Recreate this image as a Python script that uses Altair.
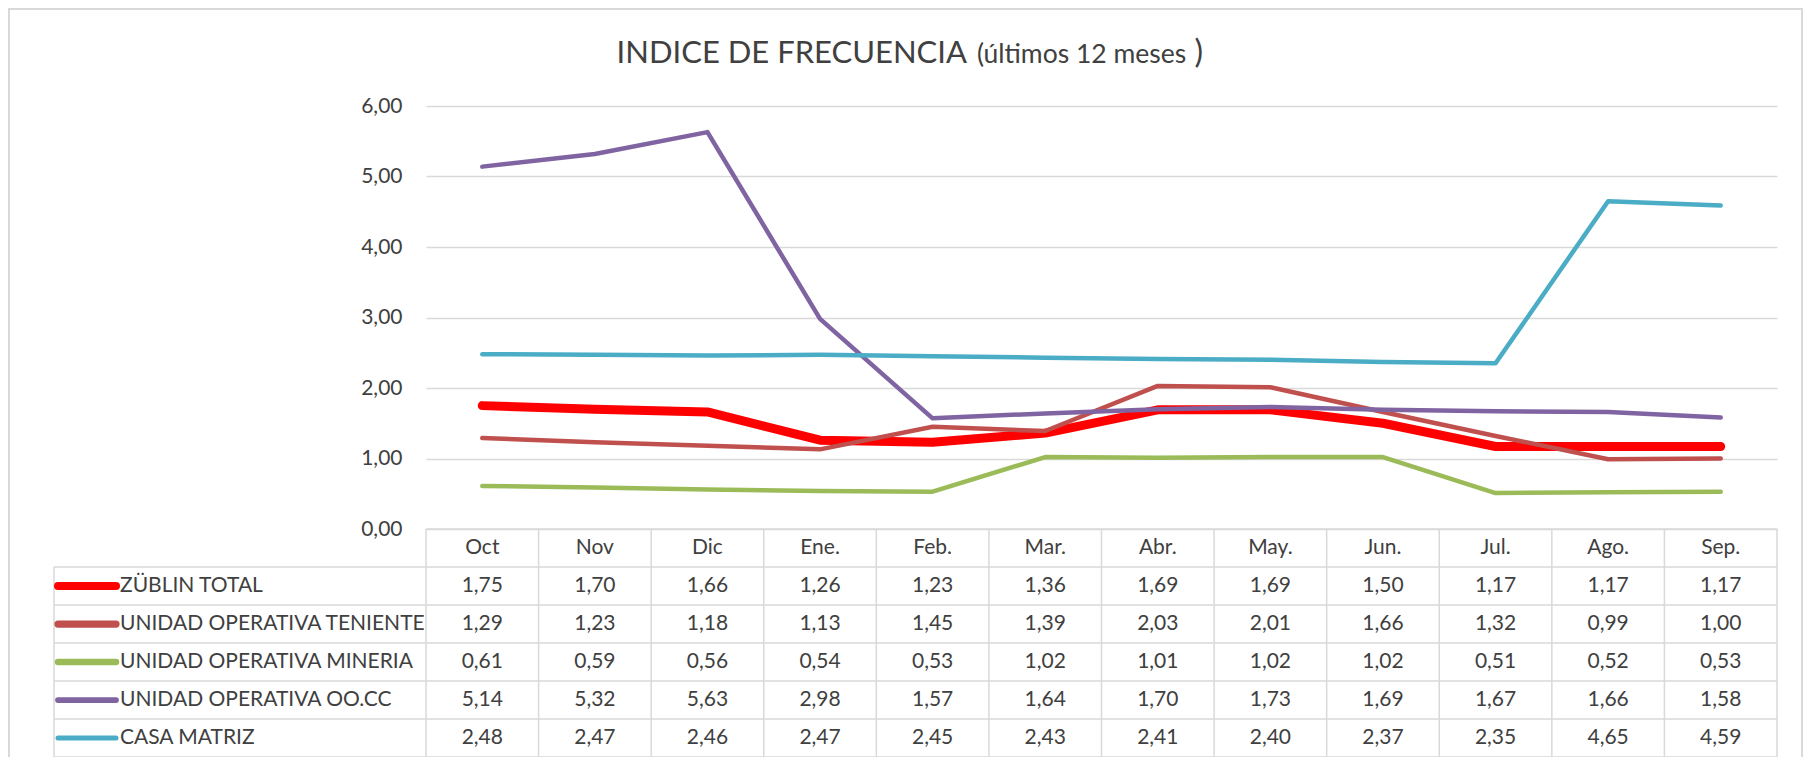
import altair as alt
import pandas as pd

# ---------------- data ----------------
months = ["Oct", "Nov", "Dic", "Ene.", "Feb.", "Mar.", "Abr.", "May.", "Jun.", "Jul.", "Ago.", "Sep."]
series_names = [
    "ZÜBLIN TOTAL",
    "UNIDAD OPERATIVA TENIENTE",
    "UNIDAD OPERATIVA MINERIA",
    "UNIDAD OPERATIVA OO.CC",
    "CASA MATRIZ",
]
zublin_total = [1.75, 1.70, 1.66, 1.26, 1.23, 1.36, 1.69, 1.69, 1.50, 1.17, 1.17, 1.17]
teniente = [1.29, 1.23, 1.18, 1.13, 1.45, 1.39, 2.03, 2.01, 1.66, 1.32, 0.99, 1.00]
mineria = [0.61, 0.59, 0.56, 0.54, 0.53, 1.02, 1.01, 1.02, 1.02, 0.51, 0.52, 0.53]
oocc = [5.14, 5.32, 5.63, 2.98, 1.57, 1.64, 1.70, 1.73, 1.69, 1.67, 1.66, 1.58]
casa_matriz = [2.48, 2.47, 2.46, 2.47, 2.45, 2.43, 2.41, 2.40, 2.37, 2.35, 4.65, 4.59]
y_ticks = [0, 1, 2, 3, 4, 5, 6]
title_main = "INDICE DE FRECUENCIA"
title_sub = "(últimos 12 meses"
title_close = ")"

series_values = [zublin_total, teniente, mineria, oocc, casa_matriz]

# ---------------- styles / layout ----------------
colors = ["#FF0000", "#C0504D", "#9BBB59", "#8064A2", "#4BACC6"]
line_widths = [9, 4.5, 4.5, 4.5, 4.5]
swatch_widths = [8, 5, 5, 5, 5]
FONT = "Lato"
TXT = "#404040"
GRID = "#D9D9D9"

W = 1351          # plot width (12 columns)
PLOT_H = 423      # line-plot height
ROW_H = 38        # table row height
N_ROWS = len(series_names) + 1
H = PLOT_H + ROW_H * N_ROWS
PAD_L, PAD_T = 418, 98
PAD_R = 1796 - PAD_L - W
PAD_B = 0
LEG_LEFT = -372

# ---------------- tables ----------------
rows = []
for si, (name, vals) in enumerate(zip(series_names, series_values)):
    for mi, (m, v) in enumerate(zip(months, vals)):
        rows.append({"series": name, "month": m, "col": mi + 0.5, "rowc": si + 1.5, "value": v})
df = pd.DataFrame(rows)

df_head = pd.DataFrame({"month": months, "col": [i + 0.5 for i in range(len(months))], "rowc": 0.5})
df_series = pd.DataFrame({"series": series_names, "rowc": [i + 1.5 for i in range(len(series_names))]})
df_edges = pd.DataFrame({"edge": list(range(len(months) + 1))})
df_hb = pd.DataFrame({"hb": list(range(1, N_ROWS + 1))})
df_one = pd.DataFrame({"a": [0]})

xs = alt.Scale(domain=[0, len(months)], nice=False, zero=False)
ys_line = alt.Scale(domain=[min(y_ticks), max(y_ticks)], range=[PLOT_H, 0], nice=False)
ys_tab = alt.Scale(domain=[0, N_ROWS], range=[PLOT_H, H], nice=False, zero=False)

y_axis = alt.Axis(
    values=y_ticks,
    labelExpr="replace(format(datum.value, '.2f'), '.', ',')",
    domain=False, ticks=False, grid=True, gridColor=GRID, gridWidth=1.3,
    labelFont=FONT, labelFontSize=21, labelColor=TXT, labelPadding=24, title=None,
)

# ---------------- lines ----------------
line_layers = []
for i, name in enumerate(series_names):
    line_layers.append(
        alt.Chart(df)
        .transform_filter(alt.datum.series == name)
        .mark_line(color=colors[i], strokeWidth=line_widths[i], strokeCap="round", strokeJoin="round")
        .encode(
            x=alt.X("col:Q", scale=xs, axis=None),
            y=alt.Y("value:Q", scale=ys_line, axis=y_axis),
        )
    )
lines = alt.layer(*line_layers)

# ---------------- data table ----------------
rule_style = dict(color=GRID, strokeWidth=1.5)

h_rules = alt.Chart(df_hb).mark_rule(**rule_style).encode(
    y=alt.Y("hb:Q", scale=ys_tab, axis=None), x=alt.value(LEG_LEFT), x2=alt.value(W)
)
head_rule = alt.Chart(df_one).mark_rule(**rule_style).encode(
    y=alt.value(PLOT_H), x=alt.value(0), x2=alt.value(W)
)
v_rules = alt.Chart(df_edges).mark_rule(**rule_style).encode(
    x=alt.X("edge:Q", scale=xs, axis=None), y=alt.value(PLOT_H), y2=alt.value(H)
)
leg_left_rule = alt.Chart(df_one).mark_rule(**rule_style).encode(
    x=alt.value(LEG_LEFT), y=alt.value(PLOT_H + ROW_H), y2=alt.value(H)
)

text_style = dict(font=FONT, fontSize=21, color=TXT, baseline="middle")

head_text = alt.Chart(df_head).mark_text(align="center", **text_style).encode(
    x=alt.X("col:Q", scale=xs, axis=None),
    y=alt.Y("rowc:Q", scale=ys_tab, axis=None),
    text="month:N",
)
num_text = (
    alt.Chart(df)
    .transform_calculate(label="replace(format(datum.value, '.2f'), '.', ',')")
    .mark_text(align="center", **text_style)
    .encode(
        x=alt.X("col:Q", scale=xs, axis=None),
        y=alt.Y("rowc:Q", scale=ys_tab, axis=None),
        text="label:N",
    )
)
leg_text = alt.Chart(df_series).mark_text(align="left", **text_style).encode(
    x=alt.value(LEG_LEFT + 66),
    y=alt.Y("rowc:Q", scale=ys_tab, axis=None),
    text="series:N",
)
swatch = alt.Chart(df_series).mark_rule(strokeCap="round").encode(
    x=alt.value(LEG_LEFT + 4),
    x2=alt.value(LEG_LEFT + 62),
    y=alt.Y("rowc:Q", scale=ys_tab, axis=None),
    color=alt.Color("series:N", scale=alt.Scale(domain=series_names, range=colors), legend=None),
    strokeWidth=alt.StrokeWidth("series:N", scale=alt.Scale(domain=series_names, range=swatch_widths), legend=None),
)

# ---------------- title and frame ----------------
t_main = alt.Chart(df_one).mark_text(
    align="right", baseline="alphabetic", font=FONT, fontSize=31, color=TXT
).encode(x=alt.value(541), y=alt.value(-43), text=alt.value(title_main))
t_sub = alt.Chart(df_one).mark_text(
    align="left", baseline="alphabetic", font=FONT, fontSize=26.5, color=TXT
).encode(x=alt.value(551), y=alt.value(-43), text=alt.value(title_sub))
t_close = alt.Chart(df_one).mark_text(
    align="right", baseline="alphabetic", font=FONT, fontSize=32, color=TXT
).encode(x=alt.value(777), y=alt.value(-43), text=alt.value(title_close))

frame = alt.Chart(df_one).mark_rect(fillOpacity=0, stroke=GRID, strokeWidth=2).encode(
    x=alt.value(-PAD_L + 1), x2=alt.value(W + PAD_R - 2), y=alt.value(-PAD_T + 1), y2=alt.value(H + 40)
)

table = alt.layer(
    frame, h_rules, head_rule, v_rules, leg_left_rule, head_text, num_text, swatch, leg_text,
    t_main, t_sub, t_close,
)

chart = (
    alt.layer(table, lines)
    .resolve_scale(y="independent")
    .properties(
        width=W,
        height=H,
        autosize=alt.AutoSizeParams(type="none"),
        padding={"left": PAD_L, "top": PAD_T, "right": PAD_R, "bottom": PAD_B},
        background="white",
    )
    .configure_view(stroke=None)
)

chart.save("out.html", embed_options={"renderer": "svg", "actions": False})
